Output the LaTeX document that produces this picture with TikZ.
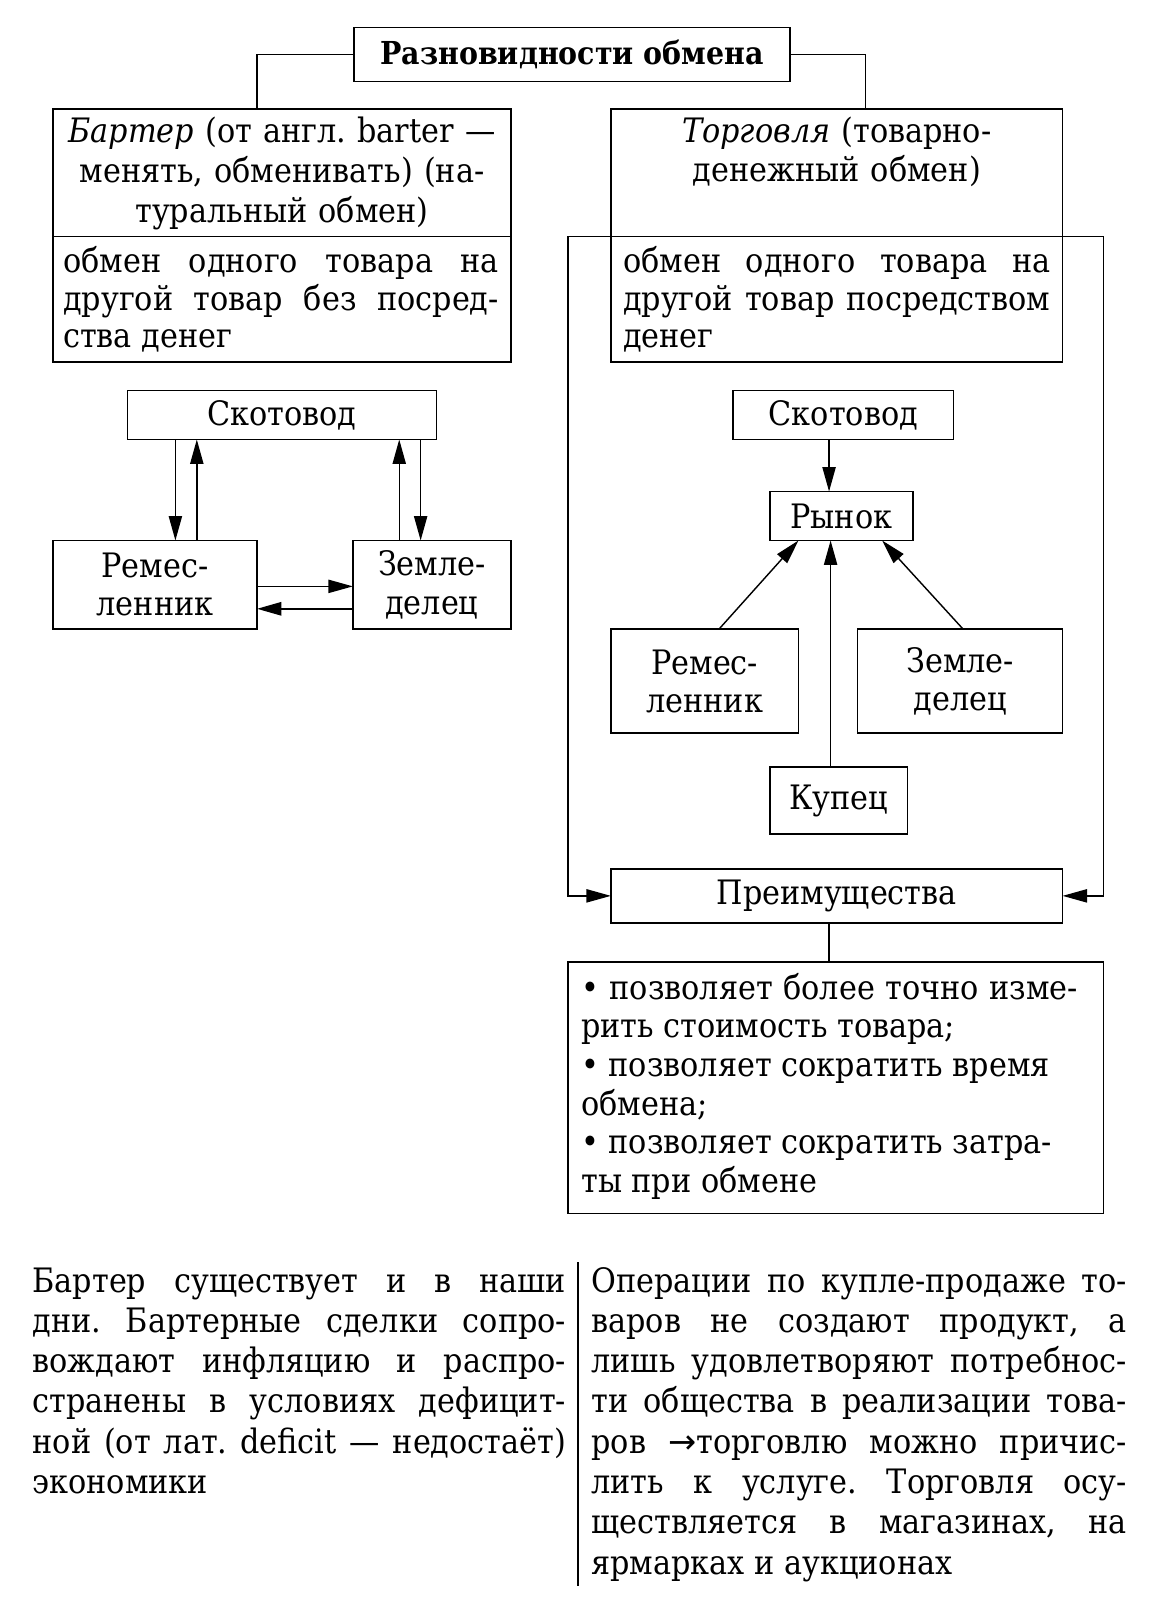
\documentclass[tikz,border=0pt]{standalone}
\usepackage{fontspec}
\setmainfont{DejaVu Serif Condensed}
\newfontfamily\arrfont{DejaVu Sans}
\usetikzlibrary{arrows.meta}
\newcommand\rsp{\spaceskip=0pt\xspaceskip=0pt\frenchspacing}
\newcommand\jl[1]{{\rsp\makebox[\linewidth][s]{#1}}}
\newcommand\bx[6]{\node[box, minimum width={(#4-#2)*1pt}, minimum height={(#5-#3)*1pt}] (#1) at (#2,#3) {\frenchspacing #6};}
\tikzset{
  box/.style={draw, line width=1.7pt, inner sep=0pt, outer sep=0pt, anchor=north west, align=center, font=\fontsize{33}{37.5}\selectfont},
  tb/.style={inner sep=0pt, outer sep=0pt, align=left},
  arr/.style={line width=1.4pt, -{Triangle[length=24pt,width=13pt]}},
  ln/.style={line width=1.4pt},
}
\begin{document}
\begin{tikzpicture}[x=1pt,y=-1pt]
\fill[white] (0,0) rectangle (1129,1569);
\useasboundingbox (0,0) rectangle (1129,1569);
% title
\bx{title}{347}{27}{775}{80}{\fontsize{31}{35}\selectfont\bfseries Разновидности обмена}
% header boxes
\bx{bhbox}{52}{107}{501}{232}{}
\bx{bdbox}{52}{232}{501}{355}{}
\bx{thbox}{599}{107}{1042}{232}{}
\bx{tdbox}{599}{232}{1042}{355}{}
\draw[ln] (title.west) -| ([xshift=-24.5pt]bhbox.north);
\draw[ln] (title.east) -| ([xshift=28.5pt]thbox.north);
% texts in header boxes
\node[tb, align=center, text width=445pt, anchor=base, font=\fontsize{33}{39}\selectfont] (bht) at (276.5,140)
  {\frenchspacing\textit{Бартер} (от англ. barter —\\менять, обменивать) (на-\\туральный обмен)};
\node[tb, text width=427pt, anchor=base west, font=\fontsize{33}{37}\selectfont] (bdt) at (62,267)
  {\rsp\jl{обмен одного товара на}\\\jl{другой товар без посред-}\\ства денег};
\node[tb, align=center, text width=440pt, anchor=base, font=\fontsize{33}{38}\selectfont] (tht) at (820.5,140)
  {\frenchspacing\textit{Торговля} (товарно-\\денежный обмен)};
\node[tb, text width=419pt, anchor=base west, font=\fontsize{33}{37}\selectfont] (tdt) at (611,267)
  {\rsp\jl{обмен одного товара на}\\\jl{другой товар посредством}\\денег};
% left scheme
\bx{sk1}{125}{383}{428}{431}{Скотовод}
\bx{rm1}{52}{530}{252}{617}{Ремес-\\ленник}
\bx{zm1}{346}{530}{501}{617}{Земле-\\делец}
\draw[arr] ([xshift=20pt]rm1.north |- sk1.south) -- ([xshift=20pt]rm1.north);
\draw[arr] ([xshift=41pt]rm1.north) -- ([xshift=41pt]rm1.north |- sk1.south);
\draw[arr] ([xshift=-32pt]zm1.north) -- ([xshift=-32pt]zm1.north |- sk1.south);
\draw[arr] ([xshift=-11pt]zm1.north |- sk1.south) -- ([xshift=-11pt]zm1.north);
\draw[arr] ([yshift=-1.5pt]rm1.east) -- ([yshift=-1.5pt]rm1.east -| zm1.west);
\draw[arr, line width=2.2pt] ([yshift=-23.5pt]zm1.west) -- ([yshift=-23.5pt]zm1.west -| rm1.east);
% right scheme
\bx{sk2}{719}{383}{935}{431}{Скотовод}
\bx{ry}{755}{482}{895}{530}{Рынок}
\bx{rm2}{599}{617}{783}{719}{Ремес-\\ленник}
\bx{zm2}{841}{617}{1042}{719}{Земле-\\делец}
\bx{ku}{755}{752}{890}{818}{Купец}
\bx{pr}{599}{852}{1042}{905}{Преимущества}
\bx{lb}{557}{943}{1082}{1190}{}
\draw[arr] ([xshift=-14pt]sk2.south) -- ([xshift=-14pt]sk2.south |- ry.north);
\draw[arr] ([xshift=14pt]rm2.north) -- ([xshift=-42pt]ry.south);
\draw[arr] ([xshift=3pt]zm2.north) -- ([xshift=40pt]ry.south);
\draw[arr] ([xshift=-8pt]ku.north) -- ([xshift=-8pt]ku.north |- ry.south);
\draw[arr] (tdbox.north west) -- ++(-42,0) |- (pr.west);
\draw[arr] (tdbox.north east) -- ++(40,0) |- (pr.east);
\draw[ln] ([xshift=-7.5pt]pr.south) -- ([xshift=-7.5pt]pr.south |- lb.north);
\node[tb, text width=487pt, anchor=base west, font=\fontsize{33}{37.8}\selectfont] (lbt) at (570,980)
  {\rsp\jl{\textbullet\ позволяет более точно изме-}\\рить стоимость товара;\\\textbullet\ позволяет сократить время\\обмена;\\\textbullet\ позволяет сократить затра-\\ты при обмене};
% bottom text
\node[tb, text width=523pt, anchor=base west, font=\fontsize{33}{39.5}\selectfont] (botl) at (32,1267)
  {\rsp\jl{Бартер существует и в наши}\\\jl{дни. Бартерные сделки сопро-}\\\jl{вождают инфляцию и распро-}\\\jl{странены в условиях дефицит-}\\\jl{ной (от лат. deficit — недостаёт)}\\экономики};
\node[tb, text width=525pt, anchor=base west, font=\fontsize{33}{39.5}\selectfont] (botr) at (580,1267)
  {\rsp\jl{Операции по купле-продаже то-}\\\jl{варов не создают продукт, а}\\\jl{лишь удовлетворяют потребнос-}\\\jl{ти общества в реализации това-}\\\jl{ров {\arrfont→}торговлю можно причис-}\\\jl{лить к услуге. Торговля осу-}\\\jl{ществляется в магазинах, на}\\ярмарках и аукционах};
\coordinate (sept) at (567,1238);
\coordinate (sepb) at (567,1555);
\draw[ln] (sept) -- (sepb);
\end{tikzpicture}
\end{document}
